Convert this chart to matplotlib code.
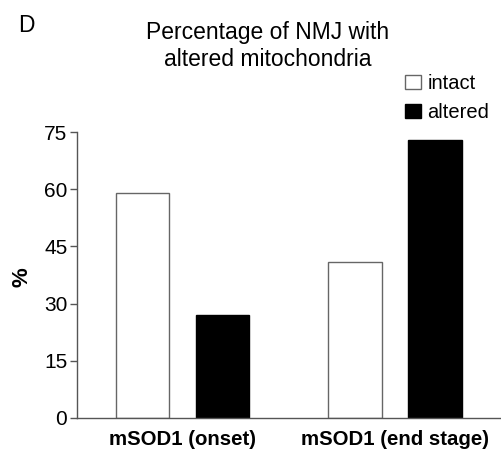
import numpy as np
import matplotlib.pyplot as plt

plt.rcParams['font.family'] = ['Liberation Sans', 'DejaVu Sans']

groups = ['mSOD1 (onset)', 'mSOD1 (end stage)']
intact = [59, 41]
altered = [27, 73]
yticks = [0, 15, 30, 45, 60, 75]

fig = plt.figure(figsize=(5.02, 4.57), dpi=100)
ax = fig.add_axes([0.1534, 0.086, 0.8426, 0.6247])

x = np.arange(len(groups))
off = 0.188
w = 0.25
ax.bar(x - off, intact, width=w, color='white', edgecolor='#666666', linewidth=1.0, label='intact')
ax.bar(x + off, altered, width=w, color='black', edgecolor='black', linewidth=1.0, label='altered')

ax.set_xlim(-0.496, 1.494)
ax.set_ylim(0, 75)
ax.set_yticks(yticks)
ax.set_xticks(x)
ax.set_xticklabels(groups, fontsize=14.7, fontweight='bold')
ax.tick_params(axis='x', length=0, pad=9)
ax.tick_params(axis='y', labelsize=15, length=5, width=1, color='#555555', pad=2)
for s in ['top', 'right']:
    ax.spines[s].set_visible(False)
for s in ['left', 'bottom']:
    ax.spines[s].set_color('#555555')
    ax.spines[s].set_linewidth(1.0)

fig.text(22 / 502, 1 - 277 / 457, '%', fontsize=16, fontweight='bold', rotation=90,
         ha='center', va='center')

fig.text(268 / 502, 1 - 46 / 457, 'Percentage of NMJ with\naltered mitochondria',
         fontsize=16.5, ha='center', va='center', linespacing=1.2)
fig.text(18 / 502, 1 - 32 / 457, 'D', fontsize=16.5, ha='left', va='baseline')

ax.legend(loc='upper left', bbox_to_anchor=(405 / 502, 1 - 74 / 457),
          bbox_transform=fig.transFigure, frameon=False, fontsize=14.5,
          handlelength=0.8, handleheight=0.75, handletextpad=0.3,
          labelspacing=0.5, borderpad=0, borderaxespad=0)

fig.savefig('out.png', dpi=100)
